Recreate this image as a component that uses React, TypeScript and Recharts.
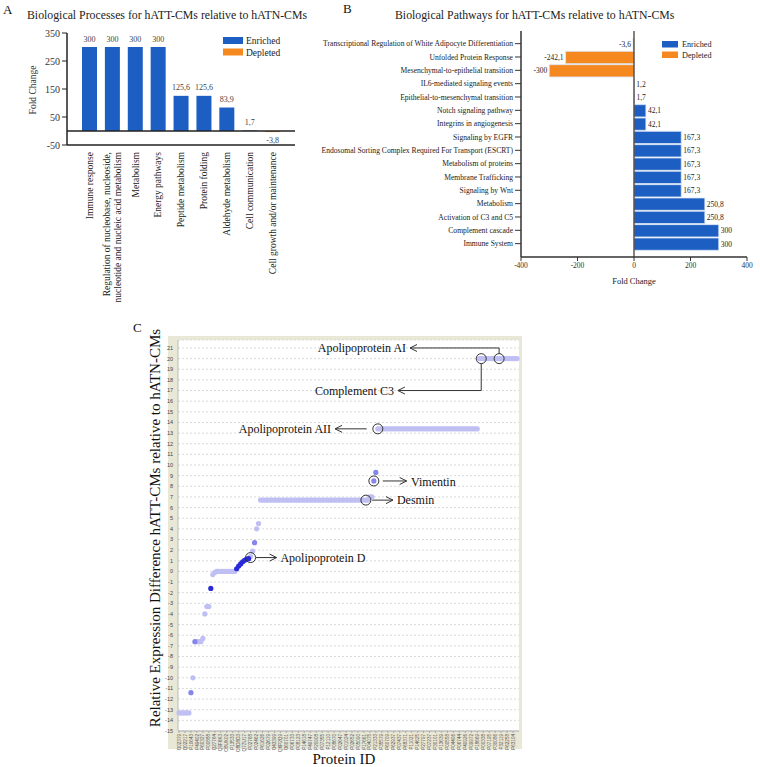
import {
  Bar,
  BarChart,
  CartesianGrid,
  Cell,
  LabelList,
  ReferenceDot,
  ReferenceLine,
  Scatter,
  ScatterChart,
  XAxis,
  YAxis
} from "recharts";

const SERIF = "Liberation Serif, serif";
const BLUE = "#1d5ec3";
const ORANGE = "#f5891f";

// --- A: biological processes ---
const processNames = [
  "Immune response",
  "Regulation of nucleobase, nucleoside,\nnucleotide and nucleic acid metabolism",
  "Metabolism",
  "Energy pathways",
  "Peptide metabolism",
  "Protein folding",
  "Aldehyde metabolism",
  "Cell communication",
  "Cell growth and/or maintenance"
];
const processFold = [300, 300, 300, 300, 125.6, 125.6, 83.9, 1.7, -3.8];
const processTicks = [-50, 0, 50, 100, 150, 200, 250, 300, 350];

// --- B: biological pathways ---
const pathwayNames = [
  "Transcriptional Regulation of White Adipocyte Differentiation",
  "Unfolded Protein Response",
  "Mesenchymal-to-epithelial transition",
  "IL6-mediated signaling events",
  "Epithelial-to-mesenchymal transition",
  "Notch signaling pathway",
  "Integrins in angiogenesis",
  "Signaling by EGFR",
  "Endosomal Sorting Complex Required For Transport (ESCRT)",
  "Metabolism of proteins",
  "Membrane Trafficking",
  "Signaling by Wnt",
  "Metabolism",
  "Activation of C3 and C5",
  "Complement cascade",
  "Immune System"
];
const pathwayFold = [-3.6, -242.1, -300, 1.2, 1.7, 42.1, 42.1, 167.3, 167.3, 167.3, 167.3, 167.3, 250.8, 250.8, 300, 300];
const pathwayTicks = [-400, -200, 0, 200, 400];

// --- C: relative expression per protein (sorted) ---
const expression = [
  -13.3, -13.3, -13.3, -13.3, -13.3, -13.3, -11.4, -10,
  -6.6, -6.6, -6.6, -6.6, -6.3, -4, -3.3, -3.3, -1.6, -0.3, -0.1,
  0, 0, 0, 0, 0, 0, 0, 0, 0, 0,
  0.25, 0.5, 0.7, 0.9, 1.05, 1.15, 1.2, 1.4, 1.9, 2.7, 4, 4.5,
  6.7, 6.7, 6.7, 6.7, 6.7, 6.7, 6.7, 6.7, 6.7, 6.7, 6.7,
  6.7, 6.7, 6.7, 6.7, 6.7, 6.7, 6.7, 6.7, 6.7, 6.7, 6.7,
  6.7, 6.7, 6.7, 6.7, 6.7, 6.7, 6.7, 6.7, 6.7, 6.7, 6.7,
  6.7, 6.7, 6.7, 6.7, 6.7, 6.7, 6.7, 6.7, 6.7, 6.7, 6.7,
  6.7, 6.7, 6.7, 6.7, 6.7, 6.7, 6.7, 6.7, 6.7, 6.7, 6.7,
  7, 7, 8.5, 9.3,
  13.4, 13.4, 13.4, 13.4, 13.4, 13.4, 13.4, 13.4, 13.4, 13.4, 13.4, 13.4, 13.4, 13.4, 13.4, 13.4, 13.4,
  13.4, 13.4, 13.4, 13.4, 13.4, 13.4, 13.4, 13.4, 13.4, 13.4, 13.4, 13.4, 13.4, 13.4, 13.4, 13.4, 13.4,
  13.4, 13.4, 13.4, 13.4, 13.4, 13.4, 13.4, 13.4, 13.4, 13.4, 13.4, 13.4, 13.4, 13.4, 13.4, 13.4, 13.4,
  20, 20, 20, 20, 20, 20, 20, 20, 20, 20,
  20, 20, 20, 20, 20, 20, 20, 20, 20, 20
];
const midPoints = [6, 8, 38, 98, 99];
const darkPoints = [16, 29, 30, 31, 32, 33, 34, 35];
const proteinIds = [
  "O02379", "Q02217", "P10643", "P49402", "P60327", "P00888", "Q27764", "Q9F6K3",
  "O8UX02", "P13533", "O8D8D3", "Q7ZU17", "P02768", "P02462", "P61626", "P02679",
  "O43399", "Q6P2Q9", "O60701", "P06733", "P08123", "P14618", "P49747", "P20908",
  "P07355", "P12110", "P08670", "P02647", "P01024", "P02652", "P05090", "P17661",
  "P04075", "P21333", "P35579", "P60709", "P62937", "P07437", "P68371", "P11021",
  "P14625", "P27797", "P07237", "P30101", "P13639", "P00558", "P04406", "P06744",
  "P40926", "P09972", "P18669", "P00338", "P07195", "P30086", "P32119", "P62258",
  "P63104"
];
const expressionTicks = [
  -15, -14, -13, -12, -11, -10, -9, -8, -7, -6, -5, -4, -3, -2, -1, 0,
  1, 2, 3, 4, 5, 6, 7, 8, 9, 10, 11, 12, 13, 14, 15, 16, 17, 18, 19, 20, 21
];

// annotation geometry, in the chart's own (index, value) units
const callouts = [
  { label: "Apolipoprotein AI", circle: [161, 20], path: [[161, 20.47], [161, 21], [116.2, 21]], text: [114.2, 21], anchor: "end" },
  { label: "Complement C3", circle: [152, 20], path: [[152, 19.53], [152, 17], [110.1, 17]], text: [108.1, 17], anchor: "end" },
  { label: "Apolipoprotein AII", circle: [100, 13.4], path: [[94.4, 13.4], [78.5, 13.4]], text: [76.5, 13.4], anchor: "end" },
  { label: "Vimentin", circle: [98, 8.5], path: [[102.5, 8.5], [114.5, 8.5]], text: [116.7, 8.4], anchor: "start" },
  { label: "Desmin", circle: [94, 6.7], path: [[97.1, 6.7], [107.6, 6.7]], text: [109.6, 6.7], anchor: "start" },
  { label: "Apolipoprotein D", circle: [36, 1.3], path: [[38.7, 1.3], [49.1, 1.3]], text: [51, 1.3], anchor: "start" }
];

const fmt = (v: number) => String(v).replace(".", ",");

const processRows = processNames.map((name, i) => ({ name, fold: processFold[i] }));
const pathwayRows = pathwayNames.map((name, i) => ({ name, fold: pathwayFold[i] }));
const expressionRows = expression.map((value, idx) => ({
  idx,
  value,
  tone: darkPoints.includes(idx) ? "dark" : midPoints.includes(idx) ? "mid" : "light"
}));
const lightRows = expressionRows.filter((r) => r.tone === "light");
const midRows = expressionRows.filter((r) => r.tone === "mid");
const darkRows = expressionRows.filter((r) => r.tone === "dark");
const proteinTickIdx = proteinIds.map((_, k) => k * 3);

function ProcessTick({ x, y, payload }: any) {
  const lines = String(payload.value).split("\n");
  const first = lines.length === 1 ? 3.3 : -2.3;
  return (
    <text transform={`translate(${x},${y}) rotate(-90)`} textAnchor="end" fontSize={9.5} fontFamily={SERIF} fill="#222">
      {lines.map((l, i) => (
        <tspan key={i} x={0} dy={i === 0 ? first : 10.6}>{l}</tspan>
      ))}
    </text>
  );
}

function ColumnValue(props: any) {
  const { x, y, width, height, value } = props;
  if (value == null) return null;
  const top = Math.min(y, y + height);
  const bottom = Math.max(y, y + height);
  return (
    <text x={x + width / 2} y={value < 0 ? bottom + 11 : top - 5.5} textAnchor="middle" fontSize={8} fill="#444" fontFamily={SERIF}>
      {fmt(value)}
    </text>
  );
}

function PathwayTick({ x, y, payload }: any) {
  return (
    <text x={x} y={y} dy="0.35em" textAnchor="end" fontSize={7.6} fontFamily={SERIF} fill="#222">
      {payload.value}
    </text>
  );
}

function RowValue(props: any) {
  const { x, y, width, height, value } = props;
  if (value == null) return null;
  const left = Math.min(x, x + width);
  const right = Math.max(x, x + width);
  const neg = value < 0;
  return (
    <text x={neg ? left - 2 : right + 2} y={y + height / 2} dy="0.35em" textAnchor={neg ? "end" : "start"} fontSize={7.5} fill="#222" fontFamily={SERIF}>
      {fmt(value)}
    </text>
  );
}

function ProteinTick({ x, y, payload }: any) {
  return (
    <text transform={`translate(${x},${y}) rotate(-90)`} dy="0.35em" textAnchor="end" fontSize={4.6} fontFamily="Liberation Sans, sans-serif" fill="#555">
      {proteinIds[payload.value / 3]}
    </text>
  );
}

const pointShape = (fill: string) => (p: any) =>
  p.cx == null ? <g /> : <circle cx={p.cx} cy={p.cy} r={2.6} fill={fill} />;

function ProcessChart() {
  return (
    <BarChart width={300} height={320} data={processRows} margin={{ top: 33, right: 5, bottom: 0, left: 7 }} barSize={15}>
      <XAxis dataKey="name" interval={0} height={175} tick={<ProcessTick />} tickLine={false} tickSize={5}
        padding={{ left: 11, right: 11 }} axisLine={{ stroke: "#222", strokeWidth: 1.5 }} />
      <YAxis width={60} domain={[-50, 350]} ticks={processTicks} tickSize={5}
        tick={{ fontSize: 10, fill: "#333", fontFamily: SERIF }} axisLine={{ stroke: "#222", strokeWidth: 1.5 }} tickLine={{ stroke: "#222" }} />
      <ReferenceLine y={0} stroke="#222" strokeWidth={1.5} />
      <Bar dataKey="fold" isAnimationActive={false}>
        {processRows.map((r) => (
          <Cell key={r.name} fill={r.fold < 0 ? ORANGE : BLUE} />
        ))}
        <LabelList dataKey="fold" content={<ColumnValue />} />
      </Bar>
    </BarChart>
  );
}

function PathwayChart() {
  return (
    <BarChart width={460} height={300} data={pathwayRows} layout="vertical" margin={{ top: 31, right: 13, bottom: 8, left: 0 }} barSize={12.3}>
      <XAxis type="number" domain={[-400, 400]} ticks={pathwayTicks} height={35} tickSize={4}
        tick={{ fontSize: 7.5, fill: "#333", fontFamily: SERIF }} axisLine={{ stroke: "#333", strokeWidth: 1.5 }} tickLine={{ stroke: "#333" }} />
      <YAxis type="category" dataKey="name" width={221} interval={0} tick={<PathwayTick />} padding={{ top: 6, bottom: 6.7 }}
        axisLine={{ stroke: "#333", strokeWidth: 1.5 }} tickLine={{ stroke: "#333" }} />
      <Bar dataKey="fold" isAnimationActive={false} stroke="#dbe6f5" strokeWidth={0.8}>
        {pathwayRows.map((r) => (
          <Cell key={r.name} fill={r.fold < 0 ? ORANGE : BLUE} />
        ))}
        <LabelList dataKey="fold" content={<RowValue />} />
      </Bar>
      <ReferenceLine x={0} stroke="#3b2e22" strokeWidth={1.2} />
    </BarChart>
  );
}

function ExpressionChart() {
  return (
    <ScatterChart width={400} height={467} margin={{ top: 40, right: 21, bottom: 18, left: 26 }}>
      <CartesianGrid vertical={false} fill="#fff" stroke="#d9d9d9" strokeDasharray="2 2" />
      <XAxis type="number" dataKey="idx" domain={[-0.5, 171]} ticks={proteinTickIdx} interval={0} height={18}
        tick={<ProteinTick />} tickSize={2} tickMargin={1} tickLine={{ stroke: "#aaa" }} axisLine={{ stroke: "#aaa" }} />
      <YAxis type="number" dataKey="value" domain={[-15, 21.75]} ticks={expressionTicks} interval={0} width={12}
        tickSize={3} tickMargin={2} tickLine={false} axisLine={{ stroke: "#bbb" }}
        tick={{ fontSize: 5.5, fill: "#444", fontFamily: "Liberation Sans, sans-serif" }} />
      <Scatter data={lightRows} dataKey="value" shape={pointShape("#bfbff3")} isAnimationActive={false} />
      <Scatter data={midRows} dataKey="value" shape={pointShape("#8585ea")} isAnimationActive={false} />
      <Scatter data={darkRows} dataKey="value" shape={pointShape("#2a2ad6")} isAnimationActive={false} />
      {callouts.map((c) => (
        <ReferenceDot key={c.label + "-c"} x={c.circle[0]} y={c.circle[1]} r={5}
          shape={(p: any) => <circle cx={p.cx} cy={p.cy} r={5} fill="none" stroke="#333" strokeWidth={1} />} />
      ))}
      {callouts.flatMap((c) =>
        c.path.slice(1).map((pt, k) => (
          <ReferenceLine key={c.label + "-s" + k} stroke="#333" strokeWidth={1}
            segment={[{ x: c.path[k][0], y: c.path[k][1] }, { x: pt[0], y: pt[1] }]} />
        ))
      )}
      {callouts.map((c) => {
        const tip = c.path[c.path.length - 1];
        const prev = c.path[c.path.length - 2];
        const dir = tip[0] < prev[0] ? 1 : -1;
        return (
          <ReferenceDot key={c.label + "-a"} x={tip[0]} y={tip[1]} r={1}
            shape={(p: any) => (
              <path d={`M${p.cx + dir * 7},${p.cy - 3.5}L${p.cx},${p.cy}L${p.cx + dir * 7},${p.cy + 3.5}`}
                fill="none" stroke="#333" strokeWidth={1} />
            )} />
        );
      })}
      {callouts.map((c) => (
        <ReferenceDot key={c.label + "-t"} x={c.text[0]} y={c.text[1]} r={1}
          shape={(p: any) => (
            <text x={p.cx} y={p.cy} dy="0.35em" textAnchor={c.anchor as any} fontSize={12} fontFamily={SERIF} fill="#111">
              {c.label}
            </text>
          )} />
      ))}
    </ScatterChart>
  );
}

export default function App() {
  return (
    <div style={{ position: "absolute", left: 0, top: 0, width: 760, height: 767, background: "#fff", overflow: "hidden", fontFamily: SERIF }}>
      <div style={{ position: "absolute", left: 168, top: 336, width: 354, height: 413, background: "#e9e7d6" }} />
      <div style={{ position: "absolute", left: 0, top: 0 }}>
        <ProcessChart />
      </div>
      <div style={{ position: "absolute", left: 300, top: 0 }}>
        <PathwayChart />
      </div>
      <div style={{ position: "absolute", left: 140, top: 300 }}>
        <ExpressionChart />
      </div>
      <svg width={760} height={767} style={{ position: "absolute", left: 0, top: 0, pointerEvents: "none" }} fontFamily={SERIF}>
        <text x={3} y={13.5} fontSize={13} fill="#111">A</text>
        <text x={27} y={19} fontSize={11.8} fill="#222">Biological Processes for hATT-CMs relative to hATN-CMs</text>
        <text transform="translate(36,90) rotate(-90)" textAnchor="middle" fontSize={9.5} fill="#333">Fold Change</text>
        <rect x={223} y={37} width={20} height={7} fill={BLUE} />
        <text x={246} y={44} fontSize={9.5} fill="#222">Enriched</text>
        <rect x={223} y={48.5} width={20} height={7} fill={ORANGE} />
        <text x={246} y={55.5} fontSize={9.5} fill="#222">Depleted</text>

        <text x={343} y={13} fontSize={13} fill="#111">B</text>
        <text x={395} y={19} fontSize={11.8} fill="#222">Biological Pathways for hATT-CMs relative to hATN-CMs</text>
        <rect x={662} y={41} width={16} height={6.5} fill={BLUE} />
        <text x={682} y={47} fontSize={8.2} fill="#222">Enriched</text>
        <rect x={662} y={51.5} width={16} height={6.5} fill={ORANGE} />
        <text x={682} y={57.5} fontSize={8.2} fill="#222">Depleted</text>
        <text x={634} y={284} textAnchor="middle" fontSize={8.5} fill="#222">Fold Change</text>

        <text x={133} y={332} fontSize={13} fill="#111">C</text>
        <text transform="translate(160,528) rotate(-90)" textAnchor="middle" fontSize={15} fill="#111">
          Relative Expression Difference hATT-CMs relative to hATN-CMs
        </text>
        <text x={344} y={764} textAnchor="middle" fontSize={15} fill="#111">Protein ID</text>
      </svg>
    </div>
  );
}
